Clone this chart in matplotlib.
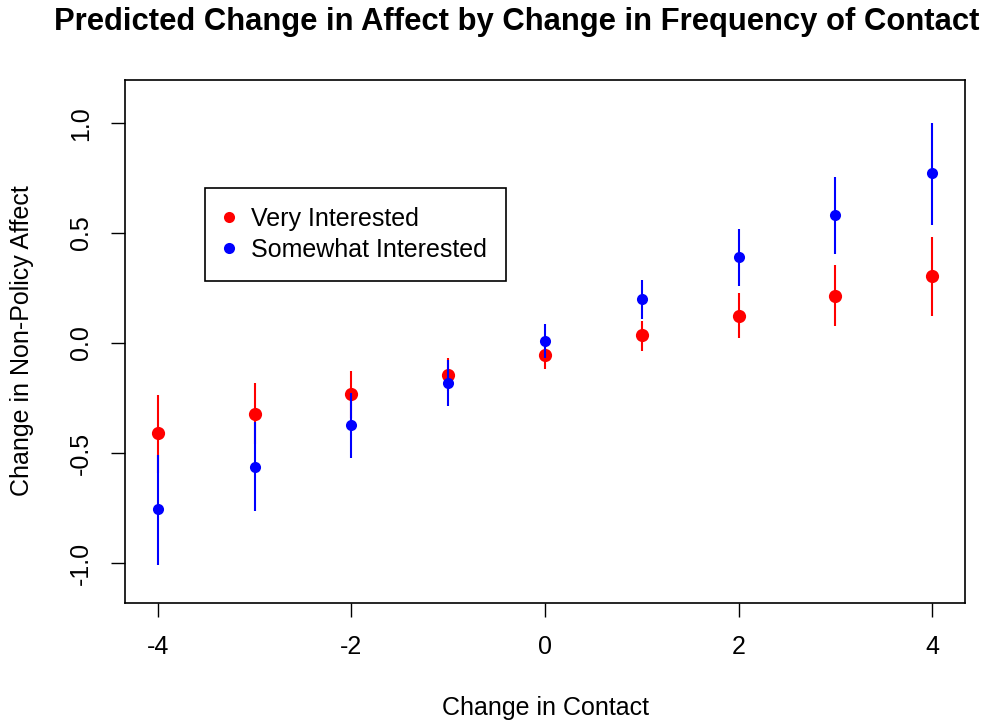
import matplotlib.pyplot as plt
from matplotlib.lines import Line2D

plt.rcParams['font.family'] = ['Liberation Sans', 'DejaVu Sans']
plt.rcParams['axes.unicode_minus'] = False

# change in contact
contact = [-4, -3, -2, -1, 0, 1, 2, 3, 4]

# very interested: estimate, lower, upper
very_est = [-0.41, -0.323, -0.232, -0.145, -0.055, 0.036, 0.123, 0.214, 0.305]
very_lo = [-0.59, -0.46, -0.34, -0.22, -0.118, -0.036, 0.023, 0.077, 0.123]
very_hi = [-0.236, -0.18, -0.127, -0.068, 0.008, 0.10, 0.227, 0.355, 0.482]

# somewhat interested: estimate, lower, upper
some_est = [-0.755, -0.564, -0.373, -0.182, 0.009, 0.20, 0.391, 0.582, 0.773]
some_lo = [-1.009, -0.764, -0.523, -0.286, -0.068, 0.109, 0.259, 0.405, 0.536]
some_hi = [-0.509, -0.359, -0.227, -0.078, 0.086, 0.286, 0.518, 0.755, 1.0]

fig = plt.figure(figsize=(10, 7.23), dpi=100)
ax = fig.add_axes([0.125, 0.166, 0.84, 0.723])

# red first, then blue on top
ax.vlines(contact, very_lo, very_hi, color='red', lw=1.5)
ax.plot(contact, very_est, 'o', color='red', ms=9.5, mec='none')
ax.vlines(contact, some_lo, some_hi, color='blue', lw=1.5)
ax.plot(contact, some_est, 'o', color='blue', ms=8, mec='none')

ax.set_xlim(-4.341, 4.341)
ax.set_ylim(-1.182, 1.195)
ax.set_xticks([-4, -2, 0, 2, 4])
ax.set_yticks([-1.0, -0.5, 0.0, 0.5, 1.0])
ax.set_yticklabels(['-1.0', '-0.5', '0.0', '0.5', '1.0'], rotation=90, va='center')
ax.tick_params(direction='out', length=10, width=1, labelsize=18, pad=13)
for s in ax.spines.values():
    s.set_linewidth(1.2)

fig.text(0.545, 1 - 708 / 723, 'Change in Contact', ha='center', va='center', fontsize=18)
fig.text(0.022, 1 - 341 / 723, 'Change in Non-Policy Affect', ha='center', va='center',
         rotation=90, fontsize=18)
fig.text(0.517, 1 - 22 / 723, 'Predicted Change in Affect by Change in Frequency of Contact',
         ha='center', va='center', fontsize=22.3, fontweight='bold')

handles = [Line2D([], [], ls='none', marker='o', color='red', ms=8, mec='none'),
           Line2D([], [], ls='none', marker='o', color='blue', ms=8, mec='none')]
leg = ax.legend(handles, ['Very Interested', 'Somewhat Interested'],
                loc='upper left', bbox_to_anchor=(0.095, 0.793), fontsize=18,
                frameon=True, fancybox=False, framealpha=1, edgecolor='black',
                handlelength=0.4, handletextpad=0.7, labelspacing=0.28,
                borderpad=0.75, borderaxespad=0)
leg.get_frame().set_linewidth(1.2)

fig.savefig('out.png', dpi=100)
